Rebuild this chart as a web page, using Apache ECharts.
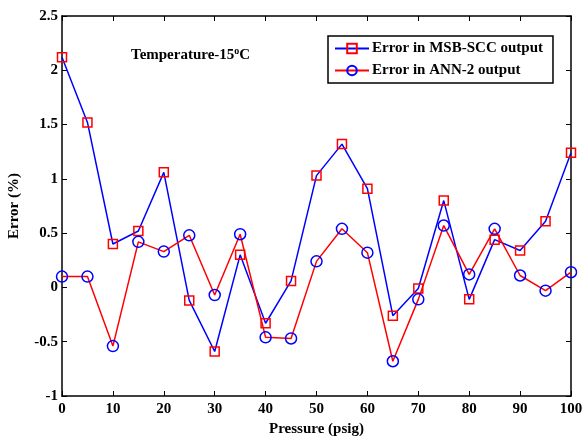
<!DOCTYPE html>
<html><head><meta charset="utf-8">
<script src="https://cdn.jsdelivr.net/npm/echarts@6/dist/echarts.min.js"></script>
<style>html,body{margin:0;padding:0;background:#fff}#c{width:582px;height:437px}</style>
</head><body><div id="c"></div>
<script>
const pressure = [0,5,10,15,20,25,30,35,40,45,50,55,60,65,70,75,80,85,90,95,100];
const msbScc = [2.12,1.52,0.40,0.52,1.06,-0.12,-0.59,0.30,-0.33,0.06,1.03,1.32,0.91,-0.26,-0.01,0.80,-0.11,0.44,0.34,0.61,1.24];
const ann2 = [0.10,0.10,-0.54,0.42,0.33,0.48,-0.07,0.49,-0.46,-0.47,0.24,0.54,0.32,-0.68,-0.11,0.57,0.12,0.54,0.11,-0.03,0.14];
const xTicks = ['0','10','20','30','40','50','60','70','80','90','100'];
const yTicks = ['-1','-0.5','0','0.5','1','1.5','2','2.5'];
const seriesNames = ['Error in MSB-SCC output','Error in ANN-2 output'];

const font = 'Liberation Serif';
const chart = echarts.init(document.getElementById('c'), null, {renderer:'canvas'});
const axisLine = {show:true, onZero:false, lineStyle:{color:'#000', width:1.5}};
const tickStyle = {show:true, inside:true, length:5, lineStyle:{color:'#000', width:1}};
chart.setOption({
  animation:false,
  backgroundColor:'#fff',
  grid:{left:62, right:11, top:16, bottom:41, containLabel:false, outerBoundsMode:'none'},
  title:{
    text:'{a|Temperature-15}{s|o}{a|C}',
    left:126, top:41,
    textStyle:{rich:{
      a:{fontFamily:font, fontWeight:'bold', fontSize:15, color:'#000'},
      s:{fontFamily:font, fontWeight:'bold', fontSize:10, color:'#000', verticalAlign:'top', padding:[0,0,9,0]}
    }}
  },
  legend:{
    data:seriesNames,
    orient:'vertical',
    left:328, top:36,
    width:227,
    itemWidth:34, itemHeight:12, itemGap:7,
    padding:[5,10,5,6],
    borderColor:'#000', borderWidth:1.5, backgroundColor:'#fff',
    textStyle:{fontFamily:font, fontWeight:'bold', fontSize:15, color:'#000', padding:[0,0,0,-2]}
  },
  xAxis:[{
    type:'value', min:0, max:100, interval:10, position:'bottom',
    axisLine:axisLine, axisTick:tickStyle, splitLine:{show:false},
    axisLabel:{margin:6, fontFamily:font, fontWeight:'bold', fontSize:15, color:'#000',
      formatter:(v)=>xTicks[Math.round(v/10)]},
    name:'Pressure (psig)', nameLocation:'middle', nameGap:25,
    nameTextStyle:{fontFamily:font, fontWeight:'bold', fontSize:15, color:'#000'}
  },{
    type:'value', min:0, max:100, interval:10, position:'top',
    axisLine:axisLine, axisTick:tickStyle, axisLabel:{show:false}, splitLine:{show:false}
  }],
  yAxis:[{
    type:'value', min:-1, max:2.5, interval:0.5, position:'left',
    axisLine:axisLine, axisTick:tickStyle, splitLine:{show:false},
    axisLabel:{margin:4, fontFamily:font, fontWeight:'bold', fontSize:15, color:'#000',
      formatter:(v)=>yTicks[Math.round((v+1)/0.5)]},
    name:'Error (%)', nameLocation:'middle', nameGap:40,
    nameTextStyle:{fontFamily:font, fontWeight:'bold', fontSize:15, color:'#000'}
  },{
    type:'value', min:-1, max:2.5, interval:0.5, position:'right',
    axisLine:axisLine, axisTick:tickStyle, axisLabel:{show:false}, splitLine:{show:false}
  }],
  series:[{
    name:seriesNames[0], type:'line',
    data:pressure.map((p,i)=>[p,msbScc[i]]),
    symbol:'rect', symbolSize:9, showAllSymbol:true,
    lineStyle:{color:'#0000ff', width:1.5},
    itemStyle:{color:'rgba(255,255,255,0)', borderColor:'#ff0000', borderWidth:1.5},
    z:2
  },{
    name:seriesNames[1], type:'line',
    data:pressure.map((p,i)=>[p,ann2[i]]),
    symbol:'circle', symbolSize:11, showAllSymbol:true,
    lineStyle:{color:'#ff0000', width:1.5},
    itemStyle:{color:'rgba(255,255,255,0)', borderColor:'#0000ff', borderWidth:1.5},
    z:3
  }]
});
</script></body></html>
